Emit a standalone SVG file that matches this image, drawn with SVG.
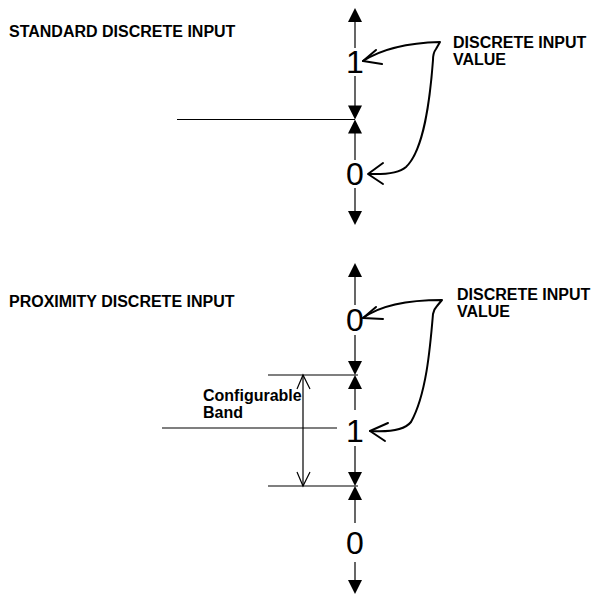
<svg xmlns="http://www.w3.org/2000/svg" width="592" height="594" viewBox="0 0 592 594">
<style>
.ln{stroke:#000;stroke-width:1.2;fill:none}
.cv{stroke:#000;stroke-width:2;fill:none;stroke-linecap:round;stroke-linejoin:round}
.lbl{font-family:"Liberation Sans",Arial,sans-serif;font-weight:bold;font-size:16px;fill:#000}
.dig{font-family:"Liberation Sans",Arial,sans-serif;font-size:32px;fill:#000;text-anchor:middle}
</style>
<defs>
<path id="up" d="M0,0 L7,14 L-7,14 Z" fill="#000"/>
<path id="dn" d="M0,0 L7,-14 L-7,-14 Z" fill="#000"/>
</defs>
<rect width="592" height="594" fill="#fff"/>
<g id="title-standard"><text class="lbl" x="9" y="37">STANDARD DISCRETE INPUT</text></g>
<g id="title-proximity"><text class="lbl" x="9" y="307">PROXIMITY DISCRETE INPUT</text></g>
<g id="std-value-label"><text class="lbl" x="453" y="48">DISCRETE INPUT</text><text class="lbl" x="453" y="65">VALUE</text></g>
<g id="prox-value-label"><text class="lbl" x="457" y="300">DISCRETE INPUT</text><text class="lbl" x="457" y="317">VALUE</text></g>
<g id="band-label"><text class="lbl" x="203" y="401">Configurable</text><text class="lbl" x="203" y="418">Band</text></g>
<g id="std-1"><text class="dig" x="355" y="73">1</text></g>
<g id="std-0"><text class="dig" x="355" y="185">0</text></g>
<g id="prox-0a"><text class="dig" x="355" y="331">0</text></g>
<g id="prox-1"><text class="dig" x="355" y="442">1</text></g>
<g id="prox-0b"><text class="dig" x="355" y="554">0</text></g>
<g id="connectors">
<line class="ln" x1="355" y1="20" x2="355" y2="48"/>
<line class="ln" x1="355" y1="76" x2="355" y2="107"/>
<line class="ln" x1="355" y1="132" x2="355" y2="160"/>
<line class="ln" x1="355" y1="188" x2="355" y2="213"/>
<use href="#up" x="355" y="8"/>
<use href="#dn" x="355" y="119.5"/>
<use href="#up" x="355" y="119.5"/>
<use href="#dn" x="355" y="225"/>
<line class="ln" x1="177" y1="119.5" x2="355" y2="119.5"/>
<line class="ln" x1="355" y1="275" x2="355" y2="305"/>
<line class="ln" x1="355" y1="335" x2="355" y2="362"/>
<line class="ln" x1="355" y1="387" x2="355" y2="410"/>
<line class="ln" x1="355" y1="446" x2="355" y2="473"/>
<line class="ln" x1="355" y1="498" x2="355" y2="523"/>
<line class="ln" x1="355" y1="562" x2="355" y2="581"/>
<use href="#up" x="355" y="263"/>
<use href="#dn" x="355" y="375"/>
<use href="#up" x="355" y="375"/>
<use href="#dn" x="355" y="486"/>
<use href="#up" x="355" y="486"/>
<use href="#dn" x="355" y="594"/>
<line class="ln" x1="268" y1="375" x2="358" y2="375"/>
<line class="ln" x1="268" y1="486" x2="358" y2="486"/>
<line class="ln" x1="162" y1="428" x2="337" y2="428"/>
<line class="ln" x1="303" y1="375" x2="303" y2="486"/>
<path class="ln" d="M297,389 L303,375 L310,389 M297,472 L303,486 L310,472"/>
<path class="cv" d="M363,61 C380,50 405,43 440,42 L436,49 Q433,53 433,60 C430,100 424,150 406,167 Q397,175 369,174"/>
<path class="cv" d="M376,50 L363,61 L382,64 M383,163 L368,174 L383,184"/>
<path class="cv" d="M363,318 C378,307 405,300 442,300 L437,306 Q434,309 433,314 C430,350 426,395 411,422 Q402,433 370,431"/>
<path class="cv" d="M376,307 L363,318 L383,319 M388,423 L370,431 L385,441"/>
</g>
</svg>
